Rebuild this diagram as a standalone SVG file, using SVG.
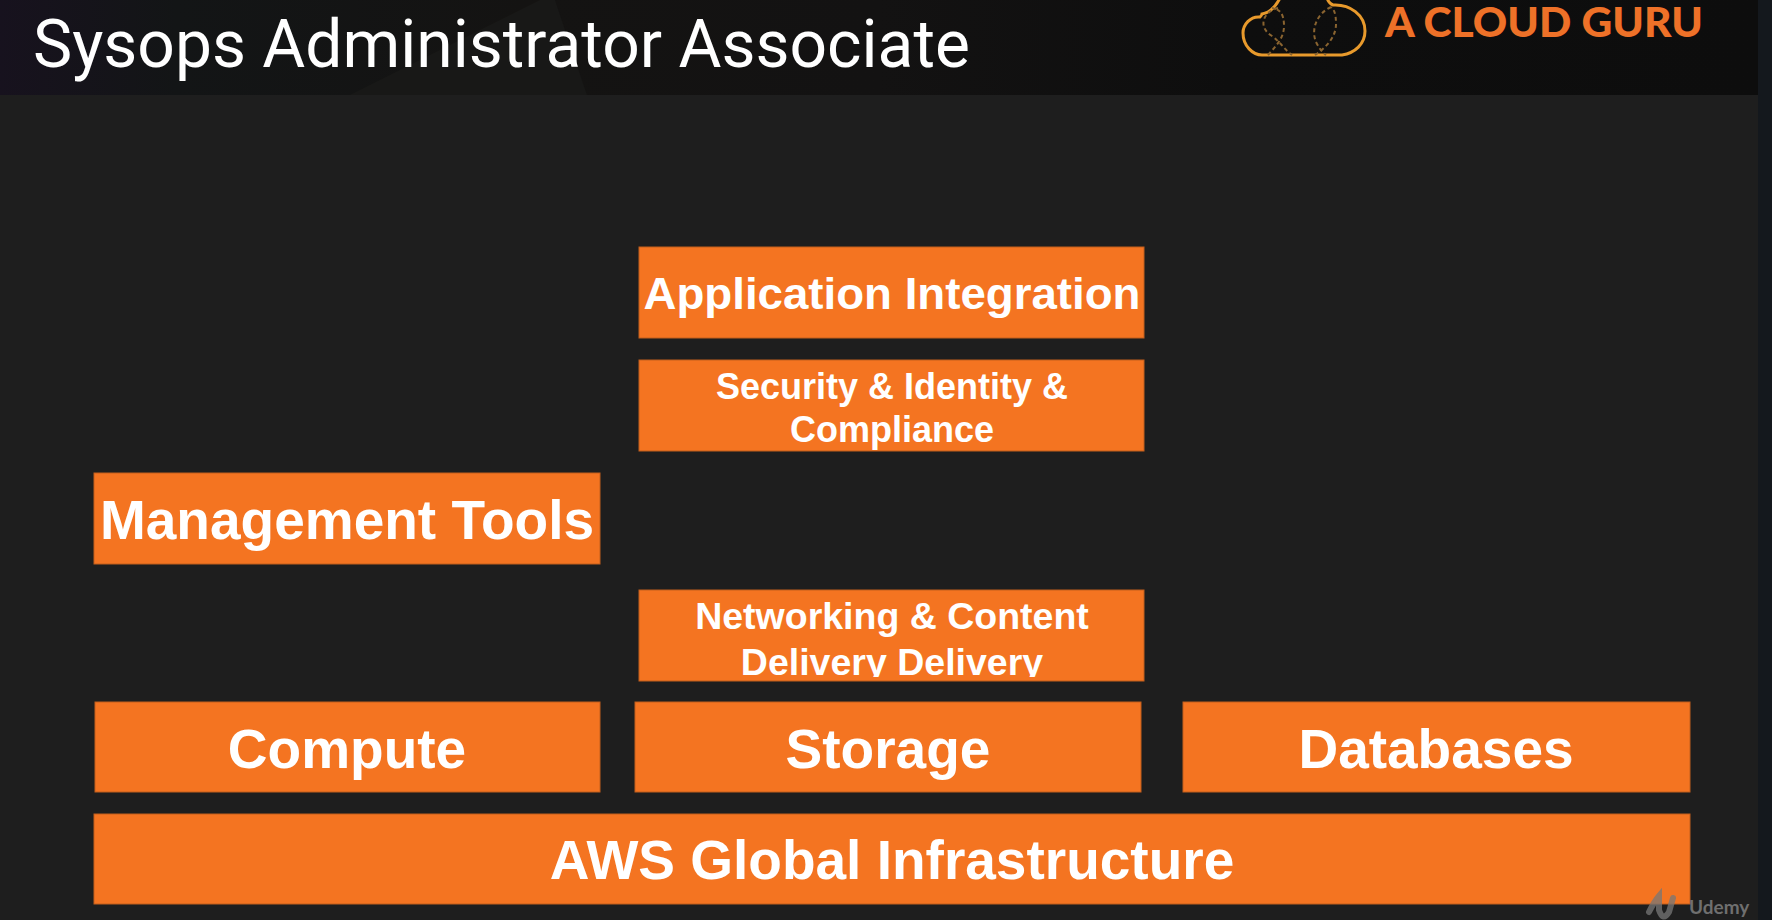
<svg xmlns="http://www.w3.org/2000/svg" width="1772" height="920" viewBox="0 0 1772 920">
<defs>
<style>
.box{fill:#f47421;stroke:#c25e1c;stroke-width:1}
.t{font-family:"Liberation Sans",Arial,sans-serif;font-weight:700;fill:#fff;text-anchor:middle}
.xl{font-size:55px}
.s{font-size:36px}
.m{font-size:37.5px}
.dash{fill:none;stroke:#8a6430;stroke-width:2;stroke-dasharray:4 3}
</style>
<linearGradient id="hdr" x1="0" x2="1" y1="0" y2="0">
<stop offset="0" stop-color="#17121e"/><stop offset="0.1" stop-color="#131516"/><stop offset="0.3" stop-color="#141312"/><stop offset="0.5" stop-color="#131212"/><stop offset="0.7" stop-color="#0e0e0e"/><stop offset="1" stop-color="#0d0d0d"/>
</linearGradient>
<clipPath id="netclip"><rect x="639" y="589" width="505" height="88"/></clipPath>
</defs>
<rect width="1772" height="920" fill="#1e1e1e"/>
<rect width="1758" height="95" fill="url(#hdr)"/>
<polygon points="350,95 540,0 555,0 587,95" fill="#181817"/>
<rect x="1758" width="14" height="920" fill="#14181d"/>
<text id="title" x="33" y="67" font-family="Roboto,Inter,sans-serif" font-weight="400" font-size="67" fill="#fff" textLength="937" lengthAdjust="spacingAndGlyphs">Sysops Administrator Associate</text>
<g id="logo">
<path d="M1280,-2 C1275,8 1268,13 1262,14 C1262,15 1260,17 1260,17 C1250,16 1243,25 1243,33 C1243,46 1253,55 1262,55 L1342,55 C1355,53 1365,44 1365,31 C1365,15 1350,4 1333,5 C1330,4 1328,1 1327,-2" fill="none" stroke="#e89a2c" stroke-width="3"/>
<path class="dash" d="M1278,8 C1262,12 1258,28 1272,36 C1282,44 1285,50 1292,55"/>
<path class="dash" d="M1268,55 C1276,46 1284,38 1284,26 C1284,14 1280,9 1272,8"/>
<path class="dash" d="M1331,7 C1316,14 1311,30 1316,42 C1319,48 1322,52 1326,55"/>
<path class="dash" d="M1315,55 C1325,48 1336,38 1336,24 C1336,14 1334,9 1331,7"/>
<text x="1385" y="37" font-family="Lato,sans-serif" font-weight="900" font-size="41" fill="#ee7128" textLength="318" lengthAdjust="spacingAndGlyphs">A CLOUD GURU</text>
</g>
<g id="connectors"></g>
<g id="application-integration"><rect class="box" x="639" y="247" width="505" height="91"/><text class="t" x="892" y="309" font-size="44" textLength="497" lengthAdjust="spacingAndGlyphs">Application Integration</text></g>
<g id="security"><rect class="box" x="639" y="360" width="505" height="91"/><text class="t s" x="892" y="399">Security &amp; Identity &amp;</text><text class="t s" x="892" y="442">Compliance</text></g>
<g id="management-tools"><rect class="box" x="94" y="473" width="506" height="91"/><text class="t xl" x="347" y="539">Management Tools</text></g>
<g id="networking"><rect class="box" x="639" y="590" width="505" height="91"/><g clip-path="url(#netclip)"><text class="t m" x="892" y="629">Networking &amp; Content</text><text class="t m" x="892" y="675">Delivery Delivery</text></g></g>
<g id="compute"><rect class="box" x="95" y="702" width="505" height="90"/><text class="t xl" x="347" y="768">Compute</text></g>
<g id="storage"><rect class="box" x="635" y="702" width="506" height="90"/><text class="t xl" x="888" y="768">Storage</text></g>
<g id="databases"><rect class="box" x="1183" y="702" width="507" height="90"/><text class="t xl" x="1436" y="768">Databases</text></g>
<g id="aws-global-infrastructure"><rect class="box" x="94" y="814" width="1596" height="90"/><text class="t xl" x="892" y="879">AWS Global Infrastructure</text></g>
<g id="udemy"><path d="M1649,912 Q1654,902 1659,896 L1659,910 Q1663,922 1669,912 L1673,898" fill="none" stroke="#777" stroke-opacity="0.75" stroke-width="6" stroke-linecap="round"/><text x="1689" y="914" font-family="Lato,sans-serif" font-weight="700" font-size="19" fill="#6f6f6f">Udemy</text></g>
</svg>
